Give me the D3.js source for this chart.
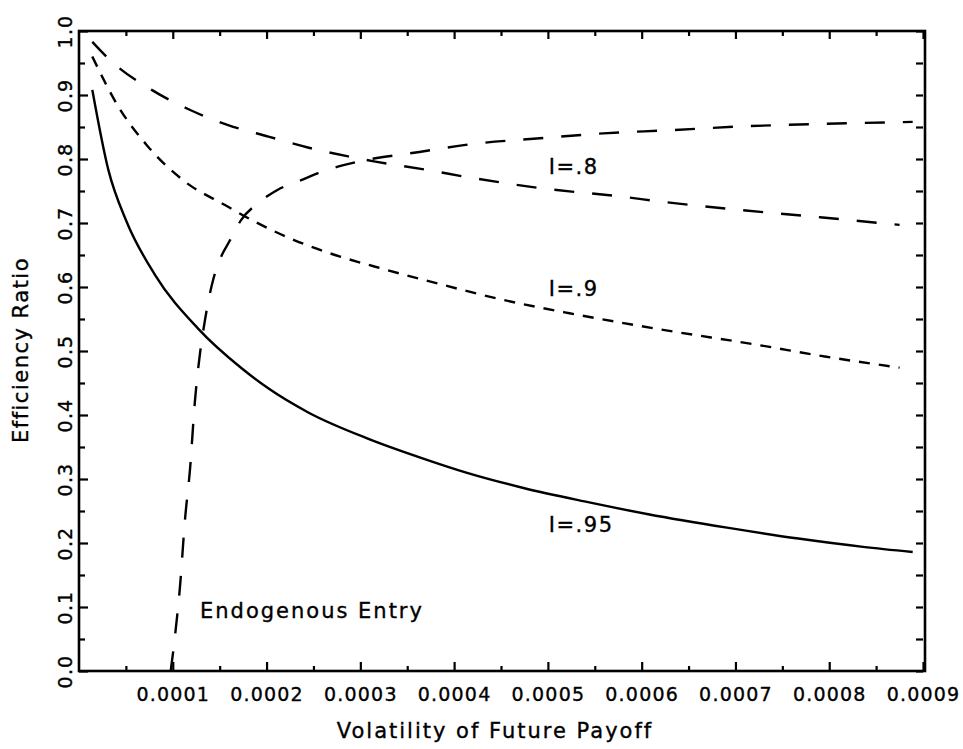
<!DOCTYPE html>
<html>
<head>
<meta charset="utf-8">
<script src="https://cdn.jsdelivr.net/npm/d3@7"></script>
<style>
  body { margin: 0; background: #fff; }
  text { font-family: "DejaVu Sans", sans-serif; fill: #000; stroke: #000; stroke-width: 0.35px; }
  .axis path { display: none; }
  .axis line { stroke: #000; stroke-width: 2.2; }
  .curve { fill: none; stroke: #000; stroke-width: 2.4; }
</style>
</head>
<body>
<div id="chart"></div>
<script>
// I=.95 (solid)
const x95 = [0.0000142, 0.0000313, 0.0000508, 0.000081, 0.000127, 0.0001734, 0.0002018, 0.0002445, 0.00031, 0.000371, 0.000413, 0.000474, 0.000539, 0.000607, 0.000691, 0.000767, 0.000836, 0.000889];
const y95 = [0.908, 0.783, 0.702, 0.619, 0.535, 0.473, 0.4417, 0.404, 0.362, 0.33, 0.31, 0.286, 0.265, 0.245, 0.224, 0.207, 0.194, 0.186];
// I=.9 (short dash)
const x90 = [0.0000142, 0.0000419, 0.0000721, 0.000113, 0.0001557, 0.0001876, 0.00023, 0.000273, 0.000315, 0.000381, 0.000452, 0.000523, 0.000619, 0.000726, 0.000797, 0.000875];
const y90 = [0.96, 0.882, 0.822, 0.7646, 0.728, 0.702, 0.673, 0.65, 0.632, 0.606, 0.58, 0.559, 0.534, 0.509, 0.491, 0.474];
// I=.8 (long dash)
const x80 = [0.0000142, 0.0000349, 0.0000775, 0.000118, 0.000159, 0.000202, 0.000244, 0.000287, 0.000316, 0.000371, 0.000413, 0.000495, 0.00058, 0.000623, 0.000708, 0.00079, 0.000875];
const y80 = [0.983, 0.952, 0.908, 0.877, 0.853, 0.835, 0.818, 0.804, 0.796, 0.783, 0.772, 0.754, 0.741, 0.733, 0.72, 0.709, 0.697];
// Endogenous entry (long dash)
const xEnd = [0.0000978, 0.0001023, 0.0001077, 0.000113, 0.0001183, 0.0001237, 0.000129, 0.0001343, 0.000143, 0.00015, 0.000161, 0.000173, 0.000191, 0.000212, 0.000237, 0.000255, 0.000276, 0.000298, 0.000363, 0.000417, 0.000488, 0.000559, 0.00063, 0.000708, 0.000797, 0.000889];
const yEnd = [0, 0.054, 0.132, 0.236, 0.314, 0.423, 0.496, 0.548, 0.611, 0.642, 0.673, 0.705, 0.731, 0.752, 0.767, 0.778, 0.788, 0.796, 0.811, 0.823, 0.832, 0.84, 0.845, 0.851, 0.855, 0.858];

const xTicks = [0.0001, 0.0002, 0.0003, 0.0004, 0.0005, 0.0006, 0.0007, 0.0008, 0.0009];
const xMinor = [0.00005, 0.00015, 0.00025, 0.00035, 0.00045, 0.00055, 0.00065, 0.00075, 0.00085];
const yTicks = [0.0, 0.1, 0.2, 0.3, 0.4, 0.5, 0.6, 0.7, 0.8, 0.9, 1.0];
const yMinor = [0.05, 0.15, 0.25, 0.35, 0.45, 0.55, 0.65, 0.75, 0.85, 0.95];

const labels = [
  { text: 'I=.8', x: 0.000501, y: 0.788, size: 21, sp: 1.5 },
  { text: 'I=.9', x: 0.000501, y: 0.598, size: 21, sp: 1.5 },
  { text: 'I=.95', x: 0.000501, y: 0.229, size: 21, sp: 1.5 },
  { text: 'Endogenous Entry', x: 0.000129, y: 0.094, size: 21, sp: 2 }
];

const W = 963, H = 749;
const margin = { top: 31, right: 38, bottom: 78, left: 79 };
const width = W - margin.left - margin.right;
const height = H - margin.top - margin.bottom;

const svg = d3.select('#chart').append('svg')
  .attr('width', W)
  .attr('height', H);
const g = svg.append('g')
  .attr('transform', 'translate(' + margin.left + ',' + margin.top + ')');

const x = d3.scaleLinear().domain([0, 0.0009]).range([0, width - 2]);
const y = d3.scaleLinear().domain([0, 1]).range([height, 0]);

// ticks, pointing inward
g.append('g').attr('class', 'axis')
  .attr('transform', 'translate(0,' + height + ')')
  .call(d3.axisBottom(x).tickValues(xTicks).tickSize(-9).tickPadding(17)
    .tickFormat(d3.format('.4f')))
  .selectAll('text')
  .style('font-size', '19px').style('letter-spacing', '1.2px');
g.append('g').attr('class', 'axis')
  .attr('transform', 'translate(0,' + height + ')')
  .call(d3.axisBottom(x).tickValues(xMinor).tickSize(-5).tickFormat(''));
g.append('g').attr('class', 'axis')
  .call(d3.axisTop(x).tickValues(xTicks).tickSize(-8).tickFormat(''));
g.append('g').attr('class', 'axis')
  .call(d3.axisTop(x).tickValues(xMinor).tickSize(-5).tickFormat(''));

const yAx = g.append('g').attr('class', 'axis')
  .call(d3.axisLeft(y).tickValues(yTicks).tickSize(-9).tickFormat(d3.format('.1f')));
yAx.selectAll('text')
  .attr('x', null).attr('dy', null)
  .attr('text-anchor', 'middle')
  .attr('transform', 'translate(-7,0) rotate(-90)')
  .style('font-size', '19px').style('letter-spacing', '1.2px');
g.append('g').attr('class', 'axis')
  .call(d3.axisLeft(y).tickValues(yMinor).tickSize(-6).tickFormat(''));
g.append('g').attr('class', 'axis')
  .attr('transform', 'translate(' + (width - 2) + ',0)')
  .call(d3.axisRight(y).tickValues(yTicks.concat(yMinor)).tickSize(-7).tickFormat(''));

// frame
g.append('rect')
  .attr('x', 0).attr('y', 0)
  .attr('width', width).attr('height', height)
  .attr('fill', 'none').attr('stroke', '#000').attr('stroke-width', 2.6);

const line = d3.line()
  .x(function (d) { return x(d[0]); })
  .y(function (d) { return y(d[1]); })
  .curve(d3.curveMonotoneX);

const series = [
  { xs: x95, ys: y95, dash: null },
  { xs: x90, ys: y90, dash: '11,9' },
  { xs: x80, ys: y80, dash: '20,18' },
  { xs: xEnd, ys: yEnd, dash: '20,18' }
];

g.selectAll('.curve')
  .data(series)
  .enter().append('path')
  .attr('class', 'curve')
  .attr('d', function (d) { return line(d3.zip(d.xs, d.ys)); })
  .attr('stroke-dasharray', function (d) { return d.dash; });

g.selectAll('.lbl')
  .data(labels)
  .enter().append('text')
  .attr('class', 'lbl')
  .attr('x', function (d) { return x(d.x); })
  .attr('y', function (d) { return y(d.y); })
  .attr('dy', '.35em')
  .style('font-size', function (d) { return d.size + 'px'; })
  .style('letter-spacing', function (d) { return d.sp + 'px'; })
  .text(function (d) { return d.text; });

// axis titles
svg.append('text')
  .attr('x', 495)
  .attr('y', 738)
  .attr('text-anchor', 'middle')
  .style('font-size', '21px').style('letter-spacing', '2px')
  .text('Volatility of Future Payoff');
svg.append('text')
  .attr('transform', 'translate(28,' + 350 + ') rotate(-90)')
  .attr('text-anchor', 'middle')
  .style('font-size', '21px').style('letter-spacing', '1.5px')
  .text('Efficiency Ratio');
</script>
</body>
</html>
